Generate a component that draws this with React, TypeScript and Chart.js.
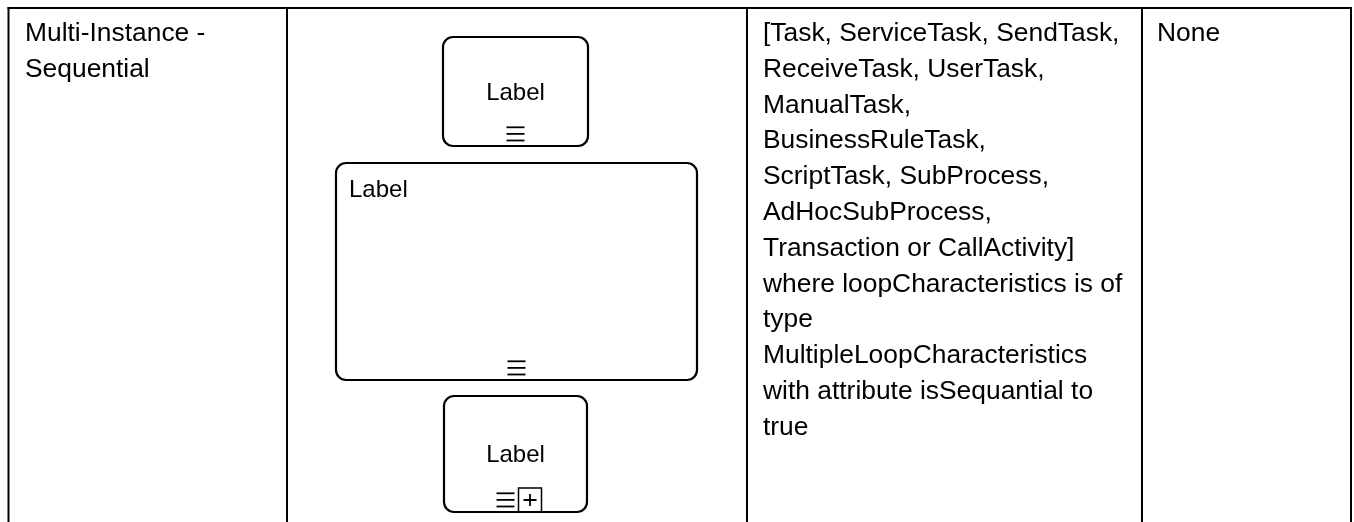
import React, { useEffect, useRef } from "react";
import { Chart, registerables } from "chart.js";

Chart.register(...registerables);

// ---- content ----
const rowTitle: string[] = ["Multi-Instance -", "Sequential"];
const applicableTypes: string[] = [
  "[Task, ServiceTask, SendTask,",
  "ReceiveTask, UserTask,",
  "ManualTask,",
  "BusinessRuleTask,",
  "ScriptTask, SubProcess,",
  "AdHocSubProcess,",
  "Transaction or CallActivity]",
  "where loopCharacteristics is of",
  "type",
  "MultipleLoopCharacteristics",
  "with attribute isSequantial to",
  "true",
];
const attributeText: string[] = ["None"];
const shapeLabels: string[] = ["Label", "Label", "Label"];
const shapeKinds: string[] = ["task", "expanded", "collapsed"];

// ---- layout (page pixels) ----
const W = 1354;
const H = 522;
const colEdges = [8.5, 287, 747, 1142, 1351];
const tableTop = 8;
const textX = [25, 763, 1157];
const firstBaseline = 41;
const lineGap = 35.8;
// shape boxes: [left, top, right, bottom]
const shapeBoxes: number[][] = [
  [443, 37, 588, 146],
  [336, 163, 697, 380],
  [444, 396, 587, 512],
];
const FONT_FAMILY = '"Liberation Sans", Arimo, Arial, Helvetica, sans-serif';

export default function App() {
  const ref = useRef<HTMLCanvasElement | null>(null);
  useEffect(() => {
    const canvas = ref.current;
    if (!canvas) return;
    let chart: any = null;
    let cancelled = false;
    const tablePlugin = {
      id: "tableDraw",
      afterDraw(c: any) {
        const ctx = c.ctx as CanvasRenderingContext2D;
        const xs = c.scales.x;
        const ys = c.scales.y;
        const px = (v: number) => xs.getPixelForValue(v);
        const py = (v: number) => ys.getPixelForValue(v);
        ctx.save();
        ctx.strokeStyle = "#000";
        ctx.fillStyle = "#000";
        ctx.lineWidth = 2;
        ctx.beginPath();
        ctx.moveTo(px(colEdges[0] - 1), py(tableTop));
        ctx.lineTo(px(colEdges[colEdges.length - 1] + 1), py(tableTop));
        ctx.stroke();
        colEdges.forEach((x) => {
          ctx.beginPath();
          ctx.moveTo(px(x), py(tableTop - 1));
          ctx.lineTo(px(x), py(H));
          ctx.stroke();
        });
        ctx.font = "26.4px " + FONT_FAMILY;
        ctx.textBaseline = "alphabetic";
        ctx.textAlign = "left";
        const cols = [rowTitle, applicableTypes, attributeText];
        cols.forEach((lines, ci) => {
          lines.forEach((t, li) => {
            ctx.fillText(t, px(textX[ci]), py(firstBaseline + li * lineGap));
          });
        });
        shapeBoxes.forEach((b, i) => {
          const l = px(b[0]);
          const t = py(b[1]);
          const r = px(b[2]);
          const btm = py(b[3]);
          const cx = (l + r) / 2;
          ctx.lineWidth = 2.2;
          ctx.beginPath();
          (ctx as any).roundRect(l, t, r - l, btm - t, 10);
          ctx.stroke();
          ctx.font = "24px " + FONT_FAMILY;
          const kind = shapeKinds[i];
          if (kind === "expanded") {
            ctx.textAlign = "left";
            ctx.fillText(shapeLabels[i], l + 13, t + 34);
          } else {
            ctx.textAlign = "center";
            ctx.fillText(shapeLabels[i], cx, (t + btm) / 2 + 8);
          }
          let mx = cx - 9;
          if (kind === "collapsed") mx = cx - 19;
          const mw = 18;
          ctx.lineWidth = 1.8;
          for (let k = 0; k < 3; k++) {
            const yy = btm - 5.5 - k * 6.6;
            ctx.beginPath();
            ctx.moveTo(mx, yy);
            ctx.lineTo(mx + mw, yy);
            ctx.stroke();
          }
          if (kind === "collapsed") {
            const sx = cx + 3;
            const sw = 23;
            const sh = 24;
            ctx.lineWidth = 1.5;
            ctx.strokeRect(sx, btm - sh, sw, sh);
            ctx.lineWidth = 1.8;
            ctx.beginPath();
            ctx.moveTo(sx + 5, btm - sh / 2);
            ctx.lineTo(sx + sw - 5, btm - sh / 2);
            ctx.moveTo(sx + sw / 2, btm - sh + 6);
            ctx.lineTo(sx + sw / 2, btm - 6);
            ctx.stroke();
          }
          ctx.textAlign = "left";
        });
        ctx.restore();
      },
    };
    const build = () => {
      if (cancelled) return;
      chart = new Chart(canvas, {
        type: "scatter",
        data: {
          datasets: [
            {
              data: shapeBoxes.map((b) => ({ x: (b[0] + b[2]) / 2, y: (b[1] + b[3]) / 2 })),
              pointRadius: 0,
              showLine: false,
            },
          ],
        },
        options: {
          responsive: false,
          maintainAspectRatio: false,
          animation: false,
          layout: { padding: 0, autoPadding: false },
          plugins: { legend: { display: false }, tooltip: { enabled: false } },
          events: [],
          scales: {
            x: { type: "linear", min: 0, max: W, display: false },
            y: { type: "linear", min: 0, max: H, reverse: true, display: false },
          },
        },
        plugins: [tablePlugin],
      } as any);
    };
    const fonts = (document as any).fonts;
    if (fonts && fonts.load) {
      Promise.all([
        fonts.load('26px "Liberation Sans"'),
        fonts.load('24px "Liberation Sans"'),
      ])
        .catch(() => null)
        .then(() => build());
    } else {
      build();
    }
    return () => {
      cancelled = true;
      if (chart) chart.destroy();
    };
  }, []);
  return (
    <div style={{ position: "absolute", left: 0, top: 0, width: W, height: H, background: "#fff" }}>
      <canvas ref={ref} width={W} height={H} style={{ width: W, height: H, display: "block" }} />
    </div>
  );
}
